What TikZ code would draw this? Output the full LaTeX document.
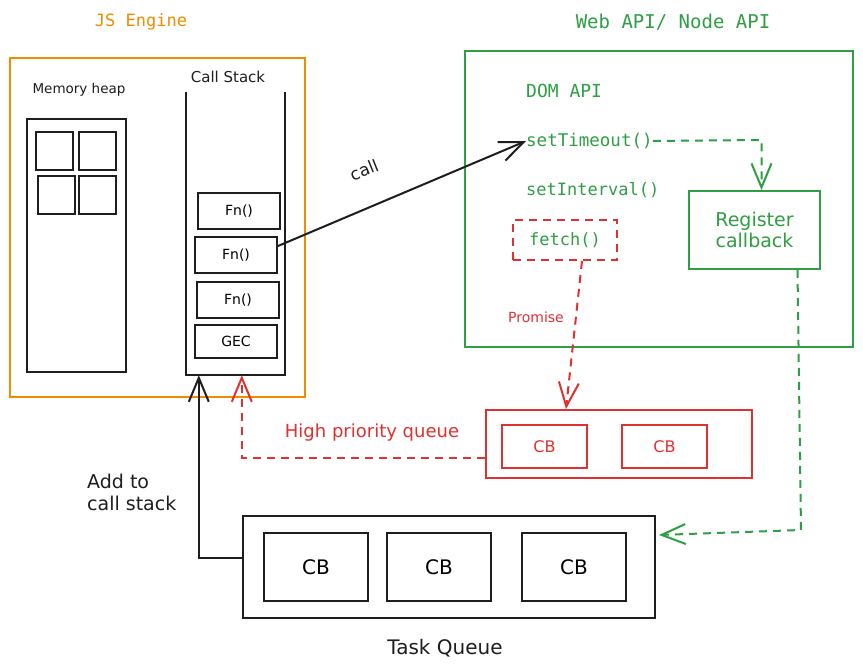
\documentclass[tikz,border=0pt]{standalone}
\usepackage{fontspec}
\setmainfont{DejaVu Sans}
\newfontfamily\codefont{DejaVu Sans Mono}
\usetikzlibrary{arrows.meta,calc}
\definecolor{exorange}{HTML}{F08C00}
\definecolor{exgreen}{HTML}{2F9E44}
\definecolor{exred}{HTML}{E03131}
\definecolor{exblack}{HTML}{1E1E1E}
\begin{document}
\begin{tikzpicture}[x=1pt,y=-1pt,
  bx/.style 2 args={draw,line width=2pt,minimum width=#1,minimum height=#2,inner sep=0pt},
  hand/.style={font=\fontsize{#1}{#1}\selectfont,inner sep=0pt},
  code/.style={font=\codefont\fontsize{#1}{#1}\selectfont,inner sep=0pt},
  barb/.style={-{Straight Barb[length=24pt,width=20pt,line width=2pt]}},
  conn/.style={line width=2pt},
  dashconn/.style={line width=2pt,dash pattern=on 8pt off 6pt}
]
\useasboundingbox[fill=white] (0,0) rectangle (863,671);

% ---- JS Engine
\node[code=17,text=exorange] (jslabel) at (141,22) {JS Engine};
\node[bx={295}{339},draw=exorange] (js) at (157.5,227.5) {};
\node[hand=13.5,text=exblack] (heaplabel) at (79,90) {Memory heap};
\node[bx={99}{253},draw=exblack] (heap) at (76.5,245.5) {};
\node[bx={37}{38},draw=exblack] (s1) at (54.5,151) {};
\node[bx={37}{38},draw=exblack] (s2) at (97.5,151) {};
\node[bx={37}{38},draw=exblack] (s3) at (56.5,195) {};
\node[bx={37}{38},draw=exblack] (s4) at (97.5,195) {};

\node[hand=15,text=exblack] (stacklabel) at (228,77) {Call Stack};
\node[minimum width=99,minimum height=283,inner sep=0pt] (stack) at (235.5,233.5) {};
\draw[conn,exblack] (stack.north west) -- (stack.south west) -- (stack.south east) -- (stack.north east);
\node[bx={82}{36},draw=exblack,hand=14] (fn1) at (239,211) {Fn()};
\node[bx={82}{36},draw=exblack,hand=14] (fn2) at (236,255) {Fn()};
\node[bx={82}{36},draw=exblack,hand=14] (fn3) at (238,300) {Fn()};
\node[bx={82}{33},draw=exblack,hand=14] (gec) at (236,341.5) {GEC};

% ---- Web API
\node[code=19,text=exgreen] (weblabel) at (673,22) {Web API/ Node API};
\node[bx={388}{296},draw=exgreen] (web) at (659,199) {};
\node[code=18,text=exgreen,anchor=west] (dom) at (526,91) {DOM API};
\node[code=17.5,text=exgreen,anchor=west] (st) at (526,141) {setTimeout()};
\node[code=17,text=exgreen,anchor=west] (si) at (526,190) {setInterval()};
\node[bx={104}{40},draw=exred,dash pattern=on 8pt off 6pt,code=17,text=exgreen] (fetch) at (565,240) {fetch()};
\node[bx={131}{78},draw=exgreen,hand=19,text=exgreen,align=center] (reg) at (754.5,230) {Register\\[2pt]callback};

% ---- High priority queue
\node[bx={266}{68},draw=exred] (hpq) at (619,444) {};
\node[bx={85}{43},draw=exred,hand=16,text=exred] (cb1) at (544.5,446.5) {CB};
\node[bx={85}{43},draw=exred,hand=16,text=exred] (cb2) at (664.5,446.5) {CB};
\node[hand=18,text=exred] (hpqlabel) at (372,433) {High priority queue};

% ---- Task queue
\node[bx={412}{102},draw=exblack] (tq) at (449,567) {};
\node[bx={104}{68},draw=exblack,hand=20] (tcb1) at (316,567) {CB};
\node[bx={104}{68},draw=exblack,hand=20] (tcb2) at (439,567) {CB};
\node[bx={104}{68},draw=exblack,hand=20] (tcb3) at (574,567) {CB};
\node[hand=20,text=exblack] (tqlabel) at (445,648) {Task Queue};
\node[hand=19,text=exblack,anchor=west,align=left] (addlabel) at (87,492) {Add to\\[3pt]call stack};

% ---- connectors
\draw[conn,barb,exblack] ($(fn2.east)+(0,-9)$) -- (st.west);
\node[hand=17,text=exblack,rotate=22] (calllabel) at (364,170) {call};

\draw[dashconn,barb,exgreen] (st.east) -- ($(reg.north)+(7,-50)$) -- ($(reg.north)+(7,0)$);

\draw[dashconn,barb,exred] ($(fetch.south)+(17,0)$) -- ($(hpq.north)+(-53,0)$);
\node[hand=14,text=exred] (promise) at (536,317) {Promise};

\draw[dashconn,barb,exgreen] ($(reg.south)+(43,0)$) -- ($(tq.north east)+(145,15)$) -- ($(tq.north east)+(3,20)$);

\draw[dashconn,barb,exred] ($(hpq.west)+(0,14)$) -| ($(stack.south west)+(56,0)$);

\draw[conn,barb,exblack] ($(tq.west)+(0,-9)$) -| ($(stack.south west)+(13,0)$);
\end{tikzpicture}
\end{document}
